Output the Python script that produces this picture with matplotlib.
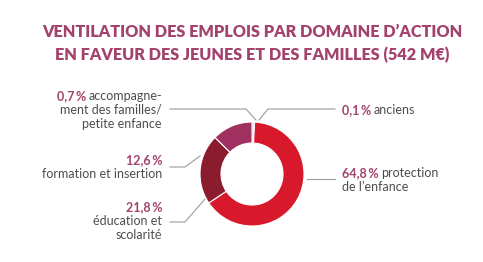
import matplotlib
matplotlib.use("Agg")
import matplotlib.pyplot as plt
from matplotlib.transforms import offset_copy

# Data: share of spending by domain (clockwise from top)
domains = ["accompagnement des familles/petite enfance", "anciens",
           "protection de l'enfance", "éducation et scolarité",
           "formation et insertion"]
shares = [0.7, 0.1, 64.8, 21.8, 12.6]
colors = ["#ec8c9c", "#f6c4cc", "#d8182b", "#8a1c2d", "#a0305f"]

title_lines = ["VENTILATION DES EMPLOIS PAR DOMAINE D\u2019ACTION",
               "EN FAVEUR DES JEUNES ET DES FAMILLES (542 M\u20ac)"]

W, H = 483, 262
MAUVE = "#a3426c"
GRAY = "#4d4d4d"
LINE = "#9a9a9a"
FS = 9
plt.rcParams["font.family"] = ["Lato", "DejaVu Sans"]

fig = plt.figure(figsize=(W / 100, H / 100), dpi=100)
ax = fig.add_axes([0, 0, 1, 1])


def Y(y):
    # pixel row (from top) to data y
    return H - y


ax.pie(shares, colors=colors, startangle=90, counterclock=False,
       center=(252, Y(174)), radius=52,
       wedgeprops=dict(width=21, edgecolor="white", linewidth=0.8))
ax.set_xlim(0, W)
ax.set_ylim(0, H)
ax.set_aspect("equal")
ax.axis("off")

for i, line in enumerate(title_lines):
    ax.text(252, Y(32 + i * 23), line, ha="center", va="center",
            fontsize=11.7, fontweight="heavy", color=MAUVE)

fig.canvas.draw()
renderer = fig.canvas.get_renderer()


def label(x, y, pct, rest, align):
    # percentage in bold mauve, followed by regular grey text on one line
    if align == "left":
        t = ax.text(x, Y(y), pct, ha="left", va="baseline", fontsize=FS,
                    fontweight="bold", color=MAUVE)
        if rest:
            w = t.get_window_extent(renderer).width
            tr = offset_copy(ax.transData, fig=fig, x=w + 2.5, units="dots")
            ax.text(x, Y(y), rest, ha="left", va="baseline", fontsize=FS,
                    color=GRAY, transform=tr)
    else:
        if rest:
            t = ax.text(x, Y(y), rest, ha="right", va="baseline", fontsize=FS,
                        color=GRAY)
            w = t.get_window_extent(renderer).width
            tr = offset_copy(ax.transData, fig=fig, x=-(w + 2.5), units="dots")
            ax.text(x, Y(y), pct, ha="right", va="baseline", fontsize=FS,
                    fontweight="bold", color=MAUVE, transform=tr)
        else:
            ax.text(x, Y(y), pct, ha="right", va="baseline", fontsize=FS,
                    fontweight="bold", color=MAUVE)


def plain(x, y, s, align):
    ax.text(x, Y(y), s, ha=align, va="baseline", fontsize=FS, color=GRAY)


# left side
label(162, 100, "0,7\u2009%", "accompagne-", "right")
plain(162, 114, "ment des familles/", "right")
plain(162, 128, "petite enfance", "right")
label(162, 164, "12,6\u2009%", "", "right")
plain(162, 178, "formation et insertion", "right")
label(162, 211, "21,8\u2009%", "", "right")
plain(162, 225, "éducation et", "right")
plain(162, 239, "scolarité", "right")

# right side
label(342, 114, "0,1\u2009%", "anciens", "left")
label(342, 177, "64,8\u2009%", "protection", "left")
plain(342, 191, "de l\u2019enfance", "left")

# leader lines
leaders = [
    [(170, 109), (246, 109), (256, 120)],
    [(335, 109), (268, 109), (259, 120)],
    [(170, 167), (185, 167), (200, 156)],
    [(170, 222), (185, 222), (205, 199)],
    [(335, 179), (307, 179)],
]
for pts in leaders:
    ax.plot([p[0] for p in pts], [Y(p[1]) for p in pts], color=LINE, lw=0.8)

fig.savefig("out.png", dpi=100, facecolor="white")
